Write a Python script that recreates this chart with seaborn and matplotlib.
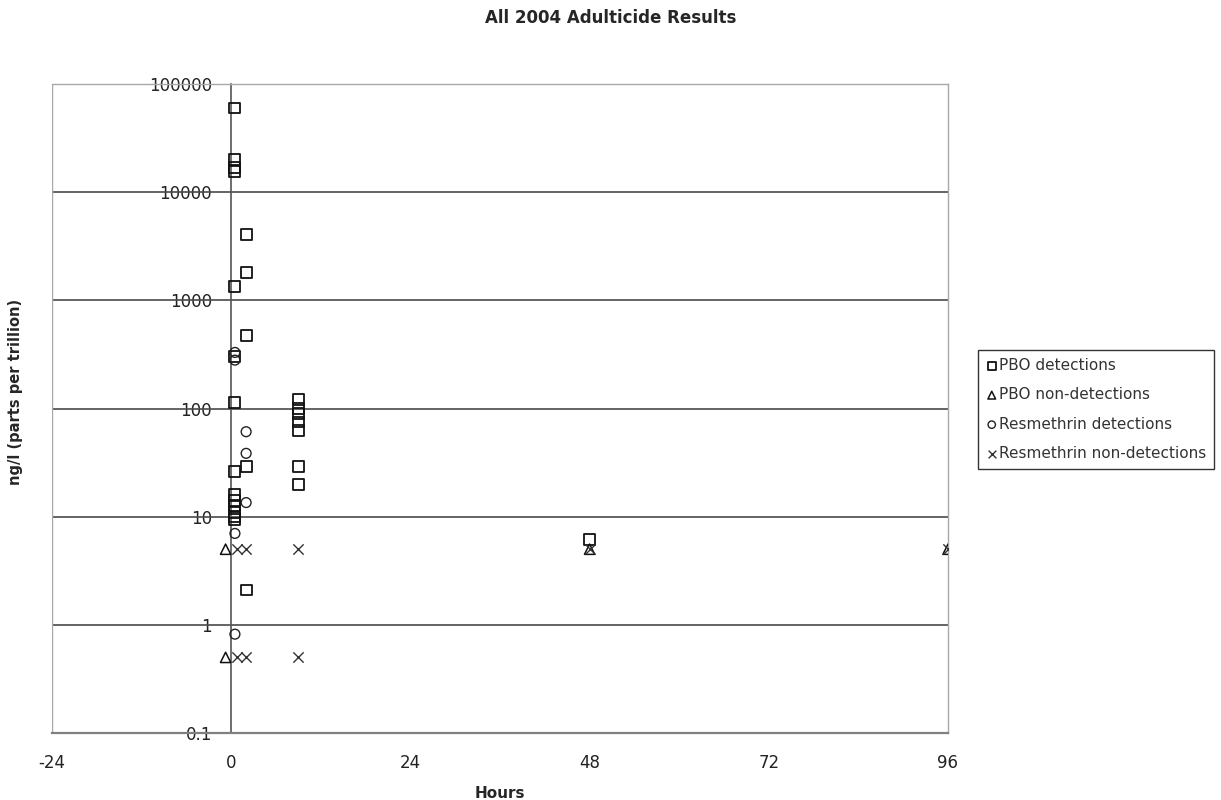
import numpy as np
import pandas as pd
import matplotlib
matplotlib.use('Agg')
import matplotlib.pyplot as plt
import seaborn as sns
from matplotlib.ticker import FixedLocator, FuncFormatter, NullLocator

# Values (hours after spraying, ng/l)
pbo_det_hours = [0.5, 0.5, 0.5, 0.5, 2, 2, 0.5, 2, 0.5, 0.5,
                 9, 9, 9, 9, 9, 2, 0.5, 9, 9,
                 0.5, 0.5, 0.5, 0.5, 0.5, 0.5, 2, 48]
pbo_det_values = [60000, 20000, 17000, 15500, 4100, 1800, 1350, 470, 300, 113,
                  120, 100, 90, 75, 62, 29, 26, 29, 20,
                  16, 14, 12.5, 11, 10, 9.5, 2.1, 6.2]

pbo_non_hours = [-0.75, -0.75, 48, 96]
pbo_non_values = [5, 0.5, 5, 5]

res_det_hours = [0.5, 0.5, 2, 2, 2, 0.5, 0.5]
res_det_values = [330, 280, 61, 38.5, 13.5, 7, 0.82]

res_non_hours = [0.75, 2, 9, 0.75, 2, 9, 48, 96]
res_non_values = [5, 5, 5, 0.5, 0.5, 0.5, 5, 5]

series_names = ['PBO detections', 'PBO non-detections',
                'Resmethrin detections', 'Resmethrin non-detections']

y_ticks = [0.1, 1, 10, 100, 1000, 10000, 100000]
x_ticks = [-24, 0, 24, 48, 72, 96]

frames = []
for name, hrs, vals in zip(series_names,
                           [pbo_det_hours, pbo_non_hours, res_det_hours, res_non_hours],
                           [pbo_det_values, pbo_non_values, res_det_values, res_non_values]):
    frames.append(pd.DataFrame({'hours': hrs, 'value': vals, 'series': name}))
df = pd.concat(frames, ignore_index=True)

sns.set_style('white')
plt.rcParams['font.family'] = ['DejaVu Sans']
plt.rcParams['axes.unicode_minus'] = False

fig = plt.figure(figsize=(12.21, 8), dpi=100)
ax = fig.add_axes([52 / 1221, 67 / 800, 896 / 1221, 649 / 800])

styles = {
    'PBO detections': dict(marker='s', s=62, facecolor='none', edgecolor='#111111', linewidth=1.3),
    'PBO non-detections': dict(marker='^', s=55, facecolor='none', edgecolor='#111111', linewidth=1.1),
    'Resmethrin detections': dict(marker='o', s=50, facecolor='none', edgecolor='#222222', linewidth=1.0),
    'Resmethrin non-detections': dict(marker='x', s=55, color='#333333', linewidth=1.0),
}

for name in series_names:
    sub = df[df['series'] == name]
    sns.scatterplot(data=sub, x='hours', y='value', ax=ax, label=name,
                    zorder=3, **styles[name])

ax.set_yscale('log')
ax.set_xlim(-24, 96)
ax.set_ylim(0.1, 100000)

# horizontal gridlines at each decade
for yv in y_ticks[1:]:
    ax.axhline(yv, color='#4a4a4a', linewidth=1.2, zorder=1)

ax.yaxis.set_major_locator(FixedLocator(y_ticks))
ax.yaxis.set_minor_locator(NullLocator())
ax.yaxis.set_major_formatter(FuncFormatter(lambda v, p: f'{v:g}' if v < 1 else f'{int(v)}'))
ax.xaxis.set_major_locator(FixedLocator(x_ticks))

# y axis crosses at hour 0, frame drawn in light grey
ax.spines['left'].set_position(('data', 0))
ax.spines['left'].set_color('#555555')
ax.spines['left'].set_linewidth(1.2)
ax.spines['bottom'].set_color('#808080')
ax.spines['bottom'].set_linewidth(1.6)
for side in ['top', 'right']:
    ax.spines[side].set_color('#a8a8a8')
    ax.spines[side].set_linewidth(1.0)
ax.axvline(-24, color='#a8a8a8', linewidth=1.0, zorder=1)

ax.tick_params(axis='y', direction='out', length=3, pad=11, labelsize=12,
               colors='#555555', labelcolor='#222222')
ax.tick_params(axis='x', direction='inout', length=6, pad=12, labelsize=12,
               colors='#555555', labelcolor='#222222')

ax.set_xlabel('Hours', fontsize=11, fontweight='bold', labelpad=10)
ax.set_ylabel('')
fig.text(0.013, 0.51, 'ng/l (parts per trillion)', rotation=90, fontsize=10.5,
         fontweight='bold', ha='center', va='center')
fig.text(0.5, 0.977, 'All 2004 Adulticide Results', fontsize=12, fontweight='bold',
         ha='center', va='center')

leg = ax.legend(loc='upper left', bbox_to_anchor=(978 / 1221, 1 - 350 / 800),
                bbox_transform=fig.transFigure, frameon=True, fancybox=False,
                edgecolor='black', fontsize=11, handletextpad=0.1,
                handlelength=0.8, labelspacing=0.95, borderpad=0.5,
                markerscale=0.75, borderaxespad=0)
leg.get_frame().set_linewidth(1.0)
for t in leg.get_texts():
    t.set_color('#333333')

fig.savefig('out.png', dpi=100)
